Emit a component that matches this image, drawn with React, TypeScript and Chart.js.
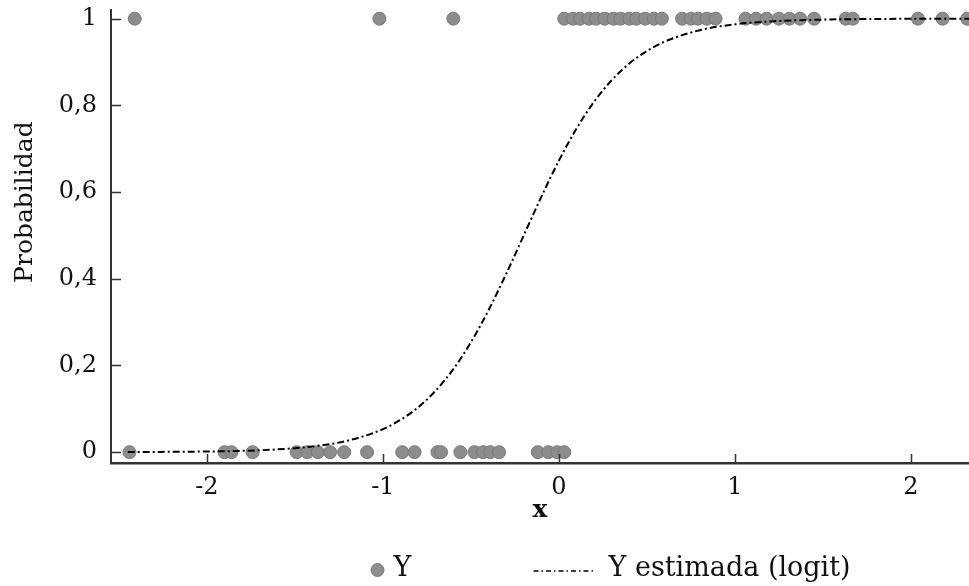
import React, { useEffect, useRef } from 'react';
import { Chart, registerables } from 'chart.js';

Chart.register(...registerables);

// ---- data ----
const X_TICKS = [-2, -1, 0, 1, 2];
const Y_TICKS = [0, 0.2, 0.4, 0.6, 0.8, 1];
const Y_TICK_LABELS = ['0', '0,2', '0,4', '0,6', '0,8', '1'];

// observations with Y = 1
const OBS_X_ONE = [
  -2.41, -1.02, -0.6,
  0.03, 0.08, 0.12, 0.17, 0.21, 0.26, 0.31, 0.35, 0.4, 0.44, 0.49, 0.54, 0.585,
  0.7, 0.75, 0.79, 0.84, 0.89,
  1.06, 1.12, 1.18, 1.25, 1.31, 1.37, 1.45,
  1.63, 1.67, 2.04, 2.18, 2.32,
];
// observations with Y = 0
const OBS_X_ZERO = [
  -2.44, -1.9, -1.86, -1.74,
  -1.49, -1.43, -1.37, -1.3, -1.22, -1.09,
  -0.89, -0.82, -0.69, -0.67, -0.56, -0.48, -0.43, -0.39, -0.34,
  -0.12, -0.06, -0.01, 0.03,
];
// estimated logit curve
const FIT_X = [
  -2.45, -2.2, -2.0, -1.8, -1.6, -1.4, -1.2, -1.0, -0.9, -0.8, -0.7, -0.6, -0.5, -0.4,
  -0.3, -0.2, -0.1, 0.0, 0.1, 0.2, 0.3, 0.4, 0.5, 0.6, 0.8, 1.0, 1.2, 1.5, 1.8, 2.1, 2.33,
];
const FIT_Y = [
  0.0003, 0.0008, 0.0015, 0.0031, 0.0064, 0.0131, 0.0266, 0.0531, 0.0745, 0.1034, 0.1419,
  0.1915, 0.2535, 0.3274, 0.411, 0.5, 0.589, 0.6726, 0.7465, 0.8085, 0.8581, 0.8966,
  0.9255, 0.9469, 0.9734, 0.9869, 0.9936, 0.9978, 0.9993, 0.9997, 0.9999,
];

const X_MIN = -2.545;
const X_MAX = 2.33;
const Y_MIN = -0.025;
const Y_MAX = 1.02;

const SERIES_OBS = 'Y';
const SERIES_FIT = 'Y estimada (logit)';
const Y_TITLE = 'Probabilidad';
const X_TITLE = 'x';

const FONT = '"DejaVu Serif", serif';
const TEXT = '#111';
const AXIS = '#333';
const POINT_FILL = '#8c8c8c';
const POINT_EDGE = '#7a7a7a';
const DASH = [7, 3, 2, 3];

const zeroPad = (s: any) => {
  s.paddingTop = 0;
  s.paddingBottom = 0;
  s.paddingLeft = 0;
  s.paddingRight = 0;
};

const decor = {
  id: 'decor',
  afterDraw(chart: any) {
    const { ctx, chartArea, scales } = chart;
    const xs = scales.x;
    const ys = scales.y;
    ctx.save();
    // inward tick marks
    ctx.strokeStyle = AXIS;
    ctx.lineWidth = 1.5;
    ctx.beginPath();
    X_TICKS.forEach((v) => {
      const p = Math.round(xs.getPixelForValue(v)) + 0.5;
      ctx.moveTo(p, chartArea.bottom);
      ctx.lineTo(p, chartArea.bottom - 9);
    });
    Y_TICKS.forEach((v) => {
      const p = Math.round(ys.getPixelForValue(v)) + 0.5;
      ctx.moveTo(chartArea.left, p);
      ctx.lineTo(chartArea.left + 10, p);
    });
    ctx.stroke();
    ctx.restore();

    // y axis title
    ctx.save();
    ctx.translate(25, chartArea.top + (chartArea.bottom - chartArea.top) * 0.424);
    ctx.rotate(-Math.PI / 2);
    ctx.font = `25px ${FONT}`;
    ctx.fillStyle = TEXT;
    ctx.textAlign = 'center';
    ctx.textBaseline = 'middle';
    ctx.fillText(Y_TITLE, 0, 0);
    ctx.restore();

    // legend
    const cx = chart.width / 2;
    const ly = 570;
    ctx.save();
    ctx.font = `27px ${FONT}`;
    ctx.textBaseline = 'middle';
    ctx.textAlign = 'left';
    ctx.beginPath();
    ctx.arc(cx - 107, ly, 6.5, 0, Math.PI * 2);
    ctx.fillStyle = POINT_FILL;
    ctx.fill();
    ctx.strokeStyle = POINT_EDGE;
    ctx.lineWidth = 1;
    ctx.stroke();
    ctx.fillStyle = TEXT;
    ctx.fillText(SERIES_OBS, cx - 91, ly - 1);
    ctx.beginPath();
    ctx.setLineDash([5, 3, 1.5, 3]);
    ctx.strokeStyle = '#000';
    ctx.lineWidth = 1.3;
    ctx.moveTo(cx + 49, ly + 1);
    ctx.lineTo(cx + 111, ly + 1);
    ctx.stroke();
    ctx.setLineDash([]);
    ctx.fillText(SERIES_FIT, cx + 124, ly - 1);
    ctx.restore();
  },
};

export default function App() {
  const ref = useRef<HTMLCanvasElement | null>(null);

  useEffect(() => {
    if (!ref.current) return;
    const chart = new Chart(ref.current, {
      type: 'scatter',
      data: {
        datasets: [
          {
            label: SERIES_FIT,
            data: FIT_X.map((x, i) => ({ x, y: FIT_Y[i] })),
            showLine: true,
            borderColor: '#000',
            borderWidth: 2,
            borderDash: DASH,
            pointRadius: 0,
            cubicInterpolationMode: 'monotone',
            fill: false,
            order: 0,
          } as any,
          {
            label: SERIES_OBS,
            data: OBS_X_ONE.map((x) => ({ x, y: 1 })).concat(OBS_X_ZERO.map((x) => ({ x, y: 0 }))),
            backgroundColor: POINT_FILL,
            borderColor: POINT_EDGE,
            borderWidth: 1,
            pointRadius: 6.5,
            order: 1,
          },
        ],
      },
      plugins: [decor],
      options: {
        responsive: false,
        animation: false,
        devicePixelRatio: 1,
        events: [],
        layout: { autoPadding: false, padding: { top: 10, right: 0, left: 0, bottom: 0 } },
        plugins: {
          legend: { display: false },
          tooltip: { enabled: false },
        },
        scales: {
          x: {
            type: 'linear',
            min: X_MIN,
            max: X_MAX,
            afterBuildTicks: (s: any) => {
              s.ticks = X_TICKS.map((v) => ({ value: v }));
            },
            afterFit: (s: any) => {
              s.height = 123;
              zeroPad(s);
            },
            grid: { display: false, drawTicks: false },
            border: { display: true, color: AXIS, width: 2.5 },
            ticks: {
              padding: 10,
              color: TEXT,
              font: { family: FONT, size: 24 },
              maxRotation: 0,
              callback: (v: any) => String(v),
            },
            title: {
              display: true,
              text: X_TITLE,
              color: TEXT,
              font: { family: FONT, size: 25, weight: 'bold' },
              padding: { top: 0, bottom: 61 },
            },
          },
          y: {
            type: 'linear',
            min: Y_MIN,
            max: Y_MAX,
            afterBuildTicks: (s: any) => {
              s.ticks = Y_TICKS.map((v) => ({ value: v }));
            },
            afterFit: (s: any) => {
              s.width = 111;
              zeroPad(s);
            },
            grid: { display: false, drawTicks: false },
            border: { display: true, color: AXIS, width: 2 },
            ticks: {
              padding: 14,
              color: TEXT,
              font: { family: FONT, size: 24 },
              callback: (v: any) => {
                const i = Y_TICKS.findIndex((t) => Math.abs(t - v) < 1e-9);
                return i >= 0 ? Y_TICK_LABELS[i] : '';
              },
            },
          },
        },
      } as any,
    });
    return () => chart.destroy();
  }, []);

  return (
    <div style={{ position: 'absolute', left: 0, top: 0, width: 969, height: 586, background: '#fff' }}>
      <canvas ref={ref} width={969} height={586} style={{ display: 'block' }} />
    </div>
  );
}
